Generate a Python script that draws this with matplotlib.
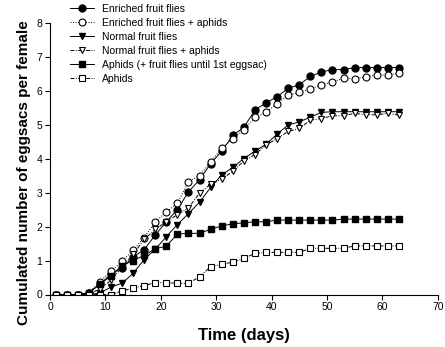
import matplotlib
matplotlib.use("Agg")
import matplotlib.pyplot as plt
import numpy as np

matplotlib.rcParams.update({'font.family': ['Liberation Sans', 'DejaVu Sans'], 'font.size': 7.5})

days = list(range(1, 64, 2))

enriched = [0, 0, 0, 0.05, 0.3, 0.6, 0.78, 1.1, 1.32, 1.75, 2.14, 2.5, 3.02, 3.38, 3.85, 4.22,
            4.68, 4.92, 5.43, 5.64, 5.82, 6.07, 6.17, 6.42, 6.55, 6.62, 6.62, 6.68, 6.68, 6.68, 6.68, 6.68]
enriched_aph = [0, 0, 0, 0.05, 0.38, 0.68, 0.98, 1.3, 1.67, 2.14, 2.43, 2.68, 3.32, 3.5, 3.9, 4.3,
                4.58, 4.85, 5.21, 5.36, 5.62, 5.87, 5.95, 6.06, 6.16, 6.26, 6.36, 6.35, 6.41, 6.46, 6.46, 6.52]
normal = [0, 0, 0, 0, 0.04, 0.22, 0.33, 0.62, 1.03, 1.33, 1.7, 2.06, 2.38, 2.72, 3.15, 3.52,
          3.74, 4.0, 4.22, 4.42, 4.72, 4.99, 5.08, 5.22, 5.36, 5.38, 5.38, 5.38, 5.38, 5.38, 5.38, 5.38]
normal_aph = [0, 0, 0, 0.03, 0.15, 0.42, 0.8, 1.18, 1.62, 1.92, 2.14, 2.35, 2.55, 2.98, 3.25, 3.39,
              3.63, 3.93, 4.12, 4.4, 4.59, 4.8, 4.89, 5.13, 5.18, 5.26, 5.26, 5.33, 5.29, 5.29, 5.33, 5.28]
aphids_ff = [0, 0, 0, 0.05, 0.3, 0.55, 0.85, 1.0, 1.15, 1.35, 1.42, 1.78, 1.8, 1.8, 1.92, 2.02,
             2.08, 2.11, 2.14, 2.14, 2.19, 2.19, 2.19, 2.19, 2.19, 2.19, 2.22, 2.22, 2.22, 2.22, 2.22, 2.22]
aphids = [0, 0, 0, 0, 0, 0, 0.1, 0.19, 0.26, 0.35, 0.35, 0.33, 0.33, 0.52, 0.82, 0.89,
          0.95, 1.06, 1.21, 1.24, 1.24, 1.24, 1.24, 1.36, 1.36, 1.36, 1.36, 1.43, 1.43, 1.43, 1.43, 1.43]

fig = plt.figure(figsize=(4.45, 3.47), dpi=100)
ax = fig.add_axes([50 / 445, 1 - 294.5 / 347, 387.7 / 445, 271.8 / 347])

ms = 5
dashdot = (0, (4, 1.5, 1, 1.5))
ax.plot(days, enriched, '-', color='black', lw=0.7, marker='o', ms=ms, mfc='black', mec='black', label='Enriched fruit flies')
ax.plot(days, enriched_aph, ':', color='black', lw=0.7, marker='o', ms=ms, mfc='white', mec='black', mew=0.8, label='Enriched fruit flies + aphids')
ax.plot(days, normal, '-', color='black', lw=0.7, marker='v', ms=ms, mfc='black', mec='black', label='Normal fruit flies')
ax.plot(days, normal_aph, linestyle=dashdot, color='black', lw=0.7, marker='v', ms=ms, mfc='white', mec='black', mew=0.8, label='Normal fruit flies + aphids')
ax.plot(days, aphids_ff, '-', color='black', lw=0.7, marker='s', ms=4.5, mfc='black', mec='black', label='Aphids (+ fruit flies until 1st eggsac)')
ax.plot(days, aphids, linestyle=dashdot, color='black', lw=0.7, marker='s', ms=4.5, mfc='white', mec='black', mew=0.8, label='Aphids')

ax.set_xlim(0, 70)
ax.set_ylim(0, 8)
ax.set_xticks(range(0, 71, 10))
ax.set_yticks(range(0, 9))
ax.spines['top'].set_visible(False)
ax.spines['right'].set_visible(False)
ax.tick_params(direction='out', length=3.5, width=0.8, pad=2)
ax.set_xlabel('Time (days)', fontsize=12, fontweight='bold')
ax.set_ylabel('Cumulated number of eggsacs per female', fontsize=11, fontweight='bold')
ax.xaxis.set_label_coords(0.5, -0.123)
ax.yaxis.set_label_coords(-0.05, 0.45)

ax.legend(loc='upper left', bbox_to_anchor=(70 / 445, 1 - 4 / 347), bbox_transform=fig.transFigure,
          frameon=False, fontsize=7.5, handlelength=2.3, handletextpad=0.8, labelspacing=0.38,
          borderpad=0, borderaxespad=0)

plt.savefig('out.png', dpi=100)
